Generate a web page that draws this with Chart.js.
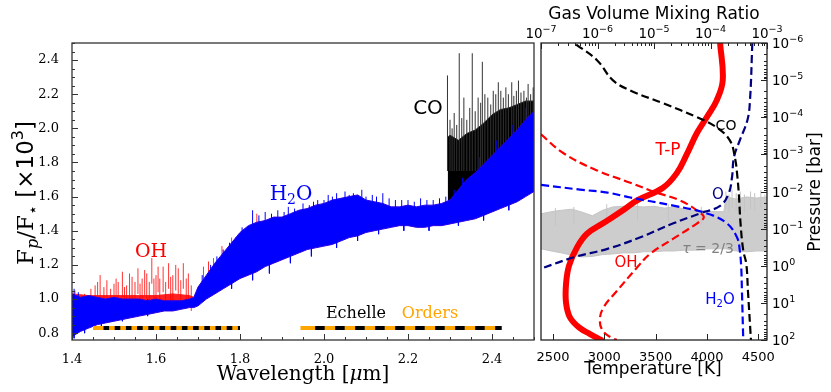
<!DOCTYPE html>
<html>
<head>
<meta charset="utf-8">
<title>Emission spectrum and T-P profile</title>
<script src="https://cdn.jsdelivr.net/npm/chart.js@4.4.1/dist/chart.umd.min.js"></script>
<style>
  html, body { margin: 0; padding: 0; background: #fff; }
  #stage { position: relative; width: 831px; height: 392px; overflow: hidden; }
  #stage canvas { position: absolute; left: 0; top: 0; }
</style>
</head>
<body>
<div id="stage">
  <canvas id="spectrum" width="831" height="392"></canvas>
  <canvas id="profile" width="831" height="392"></canvas>
</div>
<script>
// ---------- left panel: planet/star flux ratio vs wavelength ----------
const blueWl = [1.40, 1.42, 1.44, 1.46, 1.48, 1.50, 1.52, 1.54, 1.56, 1.58, 1.60, 1.62, 1.64, 1.66, 1.68, 1.69,
  1.70, 1.72, 1.74, 1.76, 1.78, 1.80, 1.82, 1.84, 1.86, 1.88, 1.90, 1.92, 1.94, 1.96, 1.98, 2.00,
  2.02, 2.04, 2.06, 2.08, 2.10, 2.12, 2.14, 2.16, 2.18, 2.20, 2.22, 2.24, 2.26, 2.28, 2.30, 2.32,
  2.34, 2.36, 2.38, 2.40, 2.42, 2.44, 2.46, 2.48, 2.50];
const blueTop = [1.03, 1.01, 1.02, 1.01, 1.00, 1.01, 1.00, 1.00, 1.00, 0.99, 1.00, 0.99, 0.99, 0.99, 1.00, 1.01,
  1.07, 1.14, 1.21, 1.27, 1.33, 1.39, 1.43, 1.45, 1.46, 1.48, 1.48, 1.50, 1.52, 1.53, 1.55, 1.56,
  1.58, 1.59, 1.60, 1.61, 1.58, 1.57, 1.56, 1.54, 1.54, 1.55, 1.54, 1.55, 1.55, 1.56, 1.58, 1.64,
  1.70, 1.74, 1.79, 1.84, 1.89, 1.94, 1.99, 2.05, 2.10];
const blueBottom = [0.78, 0.81, 0.83, 0.85, 0.86, 0.87, 0.88, 0.89, 0.90, 0.91, 0.92, 0.93, 0.93, 0.94, 0.95, 0.95,
  0.96, 1.00, 1.03, 1.06, 1.09, 1.12, 1.14, 1.16, 1.19, 1.21, 1.23, 1.25, 1.27, 1.29, 1.30, 1.31,
  1.32, 1.34, 1.36, 1.37, 1.39, 1.40, 1.41, 1.42, 1.43, 1.43, 1.42, 1.42, 1.43, 1.43, 1.44, 1.45,
  1.46, 1.47, 1.49, 1.51, 1.53, 1.55, 1.57, 1.60, 1.63];
const blueLineWl = [1.405, 1.415, 1.71, 1.73, 1.745, 1.76, 1.775, 1.79, 1.805, 1.83, 1.845, 1.86, 1.875, 1.89,
  1.905, 1.915, 1.93, 1.95, 1.965, 1.975, 1.985, 2.00, 2.01, 2.02, 2.03, 2.05, 2.06, 2.07, 2.09, 2.10,
  2.115, 2.125, 2.14, 2.155, 2.17, 2.185, 2.20, 2.215, 2.23, 2.245, 2.26, 2.275, 2.29, 2.31,
  2.33, 2.37, 2.41, 2.45, 2.48];
const blueLinePeak = [1.06, 1.04, 1.14, 1.20, 1.25, 1.29, 1.33, 1.36, 1.42, 1.52, 1.49, 1.51, 1.50, 1.52,
  1.51, 1.54, 1.53, 1.56, 1.55, 1.57, 1.58, 1.58, 1.61, 1.60, 1.62, 1.63, 1.61, 1.62, 1.64, 1.60,
  1.61, 1.60, 1.62, 1.59, 1.58, 1.58, 1.58, 1.57, 1.59, 1.58, 1.58, 1.59, 1.60, 1.64,
  1.71, 1.83, 1.93, 2.02, 2.12];
// downward noise reaching below the band
const blueDipWl = [1.405, 1.43, 1.47, 1.52, 1.58, 1.78, 1.83, 1.87, 1.92, 1.97, 2.03, 2.08, 2.13, 2.19, 2.25, 2.32, 2.38, 2.44];
const blueDip = [0.77, 0.80, 0.84, 0.87, 0.90, 1.06, 1.11, 1.15, 1.21, 1.25, 1.30, 1.34, 1.38, 1.40, 1.40, 1.43, 1.46, 1.52];

const ohWl = [1.40, 1.44, 1.48, 1.52, 1.56, 1.60, 1.64, 1.68, 1.69];
const ohTop = [1.03, 1.02, 1.02, 1.02, 1.02, 1.02, 1.03, 1.02, 1.01];
const ohBottom = [0.96, 0.96, 0.96, 0.96, 0.97, 0.97, 0.97, 0.97, 0.97];
const ohLineWl = [1.407, 1.43, 1.445, 1.455, 1.461, 1.467, 1.476, 1.483, 1.492, 1.50, 1.505, 1.51, 1.52, 1.525,
  1.53, 1.537, 1.543, 1.55, 1.557, 1.562, 1.567, 1.573, 1.578, 1.584, 1.59, 1.595, 1.60, 1.605, 1.609,
  1.617, 1.623, 1.63, 1.635, 1.64, 1.647, 1.653, 1.659, 1.665, 1.672, 1.677, 1.684, 1.713, 1.725,
  1.737, 1.757, 1.78, 1.84];
const ohLinePeak = [1.05, 1.03, 1.06, 1.08, 1.10, 1.14, 1.07, 1.11, 1.06, 1.09, 1.12, 1.10, 1.16, 1.07,
  1.08, 1.15, 1.13, 1.10, 1.18, 1.09, 1.12, 1.17, 1.15, 1.10, 1.24, 1.12, 1.14, 1.19, 1.12,
  1.19, 1.10, 1.21, 1.13, 1.14, 1.20, 1.18, 1.11, 1.21, 1.12, 1.15, 1.08, 1.19, 1.22,
  1.24, 1.31, 1.36, 1.50];

const coWl = [2.295, 2.30, 2.32, 2.34, 2.36, 2.38, 2.40, 2.42, 2.44, 2.46, 2.48, 2.50];
const coTop = [1.95, 1.96, 1.93, 1.97, 1.99, 2.03, 2.08, 2.11, 2.12, 2.14, 2.16, 2.16];
const coBottom = [1.55, 1.56, 1.60, 1.65, 1.70, 1.75, 1.80, 1.85, 1.90, 1.95, 2.00, 2.05];
const coLineWl = [2.294, 2.30, 2.305, 2.31, 2.316, 2.322, 2.328, 2.333, 2.34, 2.347, 2.353, 2.36, 2.367,
  2.373, 2.377, 2.383, 2.39, 2.397, 2.403, 2.409, 2.415, 2.421, 2.427, 2.433, 2.439, 2.447, 2.452,
  2.458, 2.463, 2.469, 2.476, 2.482, 2.486, 2.492, 2.498];
const coLinePeak = [2.31, 2.05, 2.00, 2.09, 2.02, 2.44, 2.06, 2.18, 2.05, 2.12, 2.44, 2.10, 2.18,
  2.15, 2.39, 2.20, 2.18, 2.14, 2.22, 2.20, 2.27, 2.22, 2.18, 2.24, 2.20, 2.27, 2.19,
  2.22, 2.28, 2.21, 2.22, 2.18, 2.26, 2.20, 2.24];

const echelleLevel = 0.83;
const echelleA = [1.45, 1.80];
const echelleA_odd = [1.475, 1.80];
const echelleB = [1.944, 2.423];
const echelleB_odd = [1.979, 2.423];

const wlTicks = [1.4, 1.6, 1.8, 2.0, 2.2, 2.4];
const fluxTicks = [0.8, 1.0, 1.2, 1.4, 1.6, 1.8, 2.0, 2.2, 2.4];

// ---------- right panel: T-P profile and mixing ratios ----------
const tpTemp = [4128, 4154, 4095, 3998, 3901, 3803, 3706, 3572, 3319, 3182, 2987, 2831, 2734, 2656, 2627, 2627, 2666, 2763, 2861, 2968];
const tpPres = [1e-6, 1e-5, 3.5e-5, 1e-4, 2.7e-4, 1e-3, 3.2e-3, 7.9e-3, 0.0174, 0.032, 0.072, 0.138, 0.32, 1, 3.1, 10, 25, 48, 69, 100];

const ohMr = [1e-7, 2.5e-7, 9.8e-7, 3.8e-6, 1.1e-5, 2.9e-5, 6.5e-5, 7.6e-5, 5.8e-5, 2.2e-5, 8.5e-6, 5.0e-6, 2.2e-6, 1.26e-6, 1.1e-6, 1.26e-6, 1.8e-6, 2.2e-6];
const ohPres = [2.9e-4, 9.3e-4, 2.7e-3, 5.8e-3, 0.0107, 0.0174, 0.037, 0.050, 0.072, 0.186, 0.48, 1.12, 4.8, 13.8, 31, 58, 89, 100];

const h2oMr = [1e-7, 4.9e-7, 1.5e-6, 3.8e-6, 2.2e-5, 8.7e-5, 1.95e-4, 2.95e-4, 3.3e-4, 3.5e-4, 3.6e-4, 3.8e-4];
const h2oPres = [6.6e-3, 8.9e-3, 0.0107, 0.0145, 0.024, 0.039, 0.072, 0.174, 0.39, 1.12, 4.8, 100];

const oMr = [5.5e-4, 5.0e-4, 4.5e-4, 3.3e-4, 2.6e-4, 2.4e-4, 2.1e-4, 1.5e-4, 6.5e-5, 2.2e-5, 5.6e-6, 1.5e-6, 3.7e-7, 1e-7];
const oPres = [1e-6, 3.5e-5, 1.2e-4, 4.2e-4, 1.2e-3, 4.2e-3, 0.0112, 0.024, 0.039, 0.072, 0.174, 0.35, 0.60, 1.2];

const coMr = [4.2e-7, 9.8e-7, 1.86e-6, 3.8e-6, 1.45e-5, 5.8e-5, 1.3e-4, 2.2e-4, 2.7e-4, 3.0e-4, 3.2e-4, 3.4e-4, 3.8e-4, 4.3e-4, 4.6e-4, 5.2e-4];
const coPres = [1.1e-6, 2.9e-6, 1e-5, 1.9e-5, 4.2e-5, 1e-4, 1.9e-4, 4.2e-4, 1.2e-3, 4.2e-3, 0.0145, 0.072, 0.39, 0.89, 4.8, 100];

// tau = 2/3 pressure across the same wavelength range
const tauWl = [1.40, 1.45, 1.50, 1.55, 1.60, 1.65, 1.70, 1.75, 1.80, 1.85, 1.90, 1.95, 2.00, 2.05, 2.10, 2.15,
  2.20, 2.25, 2.29, 2.30, 2.35, 2.40, 2.45, 2.50];
const tauTop = [0.040, 0.035, 0.032, 0.030, 0.036, 0.045, 0.032, 0.026, 0.025, 0.025, 0.026, 0.025, 0.028, 0.026, 0.030, 0.032,
  0.033, 0.035, 0.035, 0.014, 0.016, 0.014, 0.015, 0.014];
const tauBottom = [0.35, 0.40, 0.45, 0.52, 0.58, 0.56, 0.50, 0.48, 0.45, 0.45, 0.42, 0.42, 0.40, 0.40, 0.38, 0.38,
  0.35, 0.35, 0.35, 0.35, 0.40, 0.42, 0.40, 0.40];
const tauLineWl = [1.47, 1.56, 1.72, 1.87, 2.02, 2.18, 2.30, 2.315, 2.33, 2.35, 2.37, 2.39, 2.42, 2.44, 2.47, 2.49];
const tauLinePeak = [0.028, 0.026, 0.022, 0.020, 0.022, 0.026, 0.010, 0.012, 0.009, 0.011, 0.010, 0.012, 0.010, 0.011, 0.009, 0.012];

const tempTicks = [2500, 3000, 3500, 4000, 4500];
const mrTicks = [1e-7, 1e-6, 1e-5, 1e-4, 1e-3];
const mrTickExp = ['−7', '−6', '−5', '−4', '−3'];
const presTicks = [1e-6, 1e-5, 1e-4, 1e-3, 1e-2, 1e-1, 1, 10, 100];
const presTickExp = ['−6', '−5', '−4', '−3', '−2', '−1', '0', '1', '2'];

const SERIF = '"DejaVu Serif", serif';
const SANS = '"DejaVu Sans", sans-serif';
Chart.defaults.font.family = SANS;
Chart.defaults.color = '#000';

// closed outline: along the top edge, back along the bottom edge
function band(wl, top, bottom) {
    const pts = wl.map((w, i) => ({ x: w, y: top[i] }));
    for (let i = wl.length - 1; i >= 0; i--) pts.push({ x: wl[i], y: bottom[i] });
    return pts;
}

// one vertical stroke per line, broken by gaps
function spikes(wl, peak, baseOf) {
    const pts = [];
    wl.forEach((w, i) => {
        pts.push({ x: w, y: baseOf(peak[i]) }, { x: w, y: peak[i] }, { x: w, y: null });
    });
    return pts;
}

function pairs(xs, ys) {
    return xs.map((v, i) => ({ x: v, y: ys[i] }));
}

function areaSet(label, pts, color, edge, order, extra) {
    return Object.assign({
        label, data: pts, fill: 'shape', backgroundColor: color, borderColor: edge,
        borderWidth: 1, pointRadius: 0, order
    }, extra || {});
}

function strokeSet(label, pts, color, width, order, extra) {
    return Object.assign({
        label, data: pts, fill: false, borderColor: color, borderWidth: width,
        pointRadius: 0, spanGaps: false, order
    }, extra || {});
}

// text runs with mixed fonts, centred on x (or left-aligned), baseline on y
function rich(ctx, runs, x, y, angle, alignLeft) {
    ctx.save();
    ctx.translate(x, y);
    if (angle) ctx.rotate(angle);
    ctx.textAlign = 'left';
    ctx.textBaseline = 'alphabetic';
    let total = 0;
    runs.forEach(r => { ctx.font = r.f; total += ctx.measureText(r.t).width; });
    let cx = alignLeft ? 0 : -total / 2;
    runs.forEach(r => {
        ctx.font = r.f;
        ctx.fillStyle = r.c || '#000';
        ctx.fillText(r.t, cx, r.dy || 0);
        cx += ctx.measureText(r.t).width;
    });
    ctx.restore();
}

function power(exp) {
    return [{ t: '10', f: '13.5px ' + SANS }, { t: exp, f: '9.5px ' + SANS, dy: -6 }];
}

const specFrame = {
    id: 'specFrame',
    afterDatasetsDraw(chart) {
        const { ctx, chartArea: a } = chart;
        const { x, y } = chart.scales;
        ctx.save();
        ctx.strokeStyle = '#333';
        ctx.lineWidth = 1.3;
        ctx.strokeRect(a.left, a.top, a.right - a.left, a.bottom - a.top);
        ctx.lineWidth = 1;
        ctx.beginPath();
        for (let k = 16; k <= 50; k++) {
            const py = Math.round(y.getPixelForValue(k * 0.05)) + 0.5;
            ctx.moveTo(a.left, py);
            ctx.lineTo(a.left + (k % 4 === 0 ? 6 : 3), py);
        }
        for (let k = 28; k <= 50; k++) {
            const px = Math.round(x.getPixelForValue(k * 0.05)) + 0.5;
            ctx.moveTo(px, a.bottom);
            ctx.lineTo(px, a.bottom - (k % 4 === 0 ? 6 : 3));
        }
        ctx.stroke();
        ctx.restore();
    }
};

const specText = {
    id: 'specText',
    afterDraw(chart) {
        const ctx = chart.ctx;
        rich(ctx, [
            { t: 'F', f: '23px ' + SERIF },
            { t: 'p', f: 'italic 16px ' + SERIF, dy: 5 },
            { t: '/F', f: '23px ' + SERIF },
            { t: '⋆', f: '16px ' + SANS, dy: 5 },
            { t: ' [×10', f: '23px ' + SANS },
            { t: '3', f: '16px ' + SANS, dy: -10 },
            { t: ']', f: '23px ' + SANS }
        ], 33, 193, -Math.PI / 2);
        rich(ctx, [
            { t: 'Wavelength [', f: '20px ' + SERIF },
            { t: 'μ', f: 'italic 20px ' + SERIF },
            { t: 'm]', f: '20px ' + SERIF }
        ], 303, 380);
        rich(ctx, [{ t: 'OH', f: '19px ' + SERIF, c: '#ff0000' }], 151, 257);
        rich(ctx, [
            { t: 'H', f: '20px ' + SERIF, c: '#0000ff' },
            { t: '2', f: '14px ' + SERIF, c: '#0000ff', dy: 4 },
            { t: 'O', f: '20px ' + SERIF, c: '#0000ff' }
        ], 291, 200);
        rich(ctx, [{ t: 'CO', f: '20px ' + SANS }], 428, 114);
        rich(ctx, [{ t: 'Echelle', f: '16px ' + SERIF }], 356, 318);
        rich(ctx, [{ t: 'Orders', f: '16px ' + SERIF, c: '#ffa500' }], 430, 318);
    }
};

new Chart(document.getElementById('spectrum'), {
    type: 'line',
    data: {
        datasets: [
            areaSet('OH', band(ohWl, ohTop, ohBottom), '#ff2020', '#ff2020', 9),
            strokeSet('OH lines', spikes(ohLineWl, ohLinePeak, p => p - 0.15), 'rgba(255,0,0,0.8)', 1, 8),
            areaSet('CO', band(coWl, coTop, coBottom), '#000000', '#222', 7),
            strokeSet('CO lines', spikes(coLineWl, coLinePeak, () => 1.75), '#333', 1, 6),
            areaSet('H2O', band(blueWl, blueTop, blueBottom), '#0000ff', '#2a00e6', 5),
            strokeSet('H2O lines', spikes(blueLineWl, blueLinePeak, p => p - 0.12), '#0000ff', 1, 4),
            strokeSet('H2O dips', spikes(blueDipWl, blueDip, p => p + 0.1), '#0000ff', 1, 4),
            strokeSet('orders A', pairs(echelleA, [echelleLevel, echelleLevel]), '#ffa500', 4, 3, { borderCapStyle: 'butt' }),
            strokeSet('orders A odd', pairs(echelleA_odd, [echelleLevel, echelleLevel]), '#000', 4, 2, { borderDash: [5.6, 5.6], borderCapStyle: 'butt' }),
            strokeSet('orders B', pairs(echelleB, [echelleLevel, echelleLevel]), '#ffa500', 4, 1, { borderCapStyle: 'butt' }),
            strokeSet('orders B odd', pairs(echelleB_odd, [echelleLevel, echelleLevel]), '#000', 4, 0, { borderDash: [9.5, 10.5], borderCapStyle: 'butt' })
        ]
    },
    options: {
        responsive: false,
        animation: false,
        devicePixelRatio: 1,
        layout: { padding: { left: 0, top: 43, right: 297, bottom: 0 } },
        plugins: { legend: { display: false }, tooltip: { enabled: false } },
        scales: {
            x: {
                type: 'linear', min: 1.4, max: 2.5,
                grid: { display: false }, border: { display: false },
                afterBuildTicks: s => { s.ticks = wlTicks.map(v => ({ value: v })); },
                afterFit: s => { s.height = 52; },
                ticks: { font: { family: SERIF, size: 13 }, padding: 4, maxRotation: 0, autoSkip: false, callback: v => v.toFixed(1) }
            },
            y: {
                type: 'linear', min: 0.76, max: 2.5,
                grid: { display: false }, border: { display: false },
                afterBuildTicks: s => { s.ticks = fluxTicks.map(v => ({ value: v })); },
                afterFit: s => { s.width = 72; },
                ticks: { font: { family: SERIF, size: 13 }, padding: 5, autoSkip: false, callback: v => v.toFixed(1) }
            }
        }
    },
    plugins: [specFrame, specText]
});

const profileFrame = {
    id: 'profileFrame',
    afterDatasetsDraw(chart) {
        const { ctx, chartArea: a } = chart;
        const { x, mr, p } = chart.scales;
        ctx.save();
        ctx.strokeStyle = '#222';
        ctx.lineWidth = 1.3;
        ctx.strokeRect(a.left, a.top, a.right - a.left, a.bottom - a.top);
        ctx.lineWidth = 1;
        ctx.beginPath();
        for (let e = -6; e <= 2; e++) {
            for (let k = 1; k <= 9; k++) {
                const v = k * Math.pow(10, e);
                if (v > 100.001) break;
                const py = Math.round(p.getPixelForValue(v)) + 0.5;
                ctx.moveTo(a.right, py);
                ctx.lineTo(a.right - (k === 1 ? 6 : 3), py);
            }
        }
        for (let e = -7; e <= -3; e++) {
            for (let k = 1; k <= 9; k++) {
                const v = k * Math.pow(10, e);
                if (v > 1.0001e-3) break;
                const px = Math.round(mr.getPixelForValue(v)) + 0.5;
                ctx.moveTo(px, a.top);
                ctx.lineTo(px, a.top + (k === 1 ? 6 : 3));
            }
        }
        tempTicks.forEach(v => {
            const px = Math.round(x.getPixelForValue(v)) + 0.5;
            ctx.moveTo(px, a.bottom);
            ctx.lineTo(px, a.bottom - 6);
        });
        ctx.stroke();
        ctx.restore();
    }
};

const profileText = {
    id: 'profileText',
    afterDraw(chart) {
        const ctx = chart.ctx;
        const { mr, p } = chart.scales;
        const area = chart.chartArea;
        // power-of-ten tick labels
        presTicks.forEach((v, i) => {
            rich(ctx, power(presTickExp[i]), area.right + 5, p.getPixelForValue(v) + 5, 0, true);
        });
        mrTicks.forEach((v, i) => {
            rich(ctx, power(mrTickExp[i]), mr.getPixelForValue(v), 38);
        });
        rich(ctx, [{ t: 'Gas Volume Mixing Ratio', f: '17px ' + SANS }], 654, 19);
        rich(ctx, [{ t: 'Temperature [K]', f: '17px ' + SANS }], 653, 374);
        rich(ctx, [{ t: 'Pressure [bar]', f: '17px ' + SANS }], 820, 192, -Math.PI / 2);
        rich(ctx, [{ t: 'CO', f: '14px ' + SANS }], 726, 130);
        rich(ctx, [{ t: 'T-P', f: '17px ' + SANS, c: '#ff0000' }], 668, 155);
        rich(ctx, [{ t: 'O', f: '15px ' + SANS, c: '#000080' }], 718, 199);
        rich(ctx, [
            { t: 'τ', f: 'italic 14px ' + SANS, c: '#808080' },
            { t: ' = 2/3', f: '14px ' + SANS, c: '#808080' }
        ], 708, 253);
        rich(ctx, [{ t: 'OH', f: '15px ' + SANS, c: '#ff0000' }], 626, 267);
        rich(ctx, [
            { t: 'H', f: '15px ' + SANS, c: '#0000ff' },
            { t: '2', f: '10px ' + SANS, c: '#0000ff', dy: 3 },
            { t: 'O', f: '15px ' + SANS, c: '#0000ff' }
        ], 720, 304);
    }
};

const dashed = { borderDash: [8, 4], tension: 0.4, xAxisID: 'mr', yAxisID: 'p' };

new Chart(document.getElementById('profile'), {
    type: 'line',
    data: {
        datasets: [
            areaSet('tau=2/3', band(tauWl, tauTop, tauBottom), '#cdcdcd', '#c4c4c4', 10, { xAxisID: 'wl', yAxisID: 'p' }),
            strokeSet('tau lines', spikes(tauLineWl, tauLinePeak, p => p * 3), '#c4c4c4', 1, 9, { xAxisID: 'wl', yAxisID: 'p' }),
            strokeSet('T-P', pairs(tpTemp, tpPres), '#ff0000', 6, 8, { tension: 0.4, xAxisID: 'x', yAxisID: 'p', borderCapStyle: 'round', borderJoinStyle: 'round' }),
            strokeSet('OH', pairs(ohMr, ohPres), '#ff0000', 2.2, 4, dashed),
            strokeSet('H2O', pairs(h2oMr, h2oPres), '#0000ff', 2.2, 3, dashed),
            strokeSet('O', pairs(oMr, oPres), '#000080', 2.2, 2, dashed),
            strokeSet('CO', pairs(coMr, coPres), '#000000', 2.2, 1, dashed)
        ]
    },
    options: {
        responsive: false,
        animation: false,
        devicePixelRatio: 1,
        layout: { padding: { left: 541, top: 0, right: 0, bottom: 0 } },
        plugins: { legend: { display: false }, tooltip: { enabled: false } },
        scales: {
            x: {
                type: 'linear', position: 'bottom', min: 2383, max: 4585,
                grid: { display: false }, border: { display: false },
                afterBuildTicks: s => { s.ticks = tempTicks.map(v => ({ value: v })); },
                afterFit: s => { s.height = 52; },
                ticks: { font: { size: 13 }, padding: 2, maxRotation: 0, autoSkip: false, callback: v => String(v) }
            },
            mr: {
                type: 'logarithmic', position: 'top', axis: 'x', min: 1e-7, max: 1e-3,
                grid: { display: false }, border: { display: false },
                afterBuildTicks: s => { s.ticks = mrTicks.map(v => ({ value: v })); },
                afterFit: s => { s.height = 43; },
                ticks: { display: false }
            },
            p: {
                type: 'logarithmic', position: 'right', axis: 'y', reverse: true, min: 1e-6, max: 100,
                grid: { display: false }, border: { display: false },
                afterBuildTicks: s => { s.ticks = presTicks.map(v => ({ value: v })); },
                afterFit: s => { s.width = 64; },
                ticks: { display: false }
            },
            wl: { type: 'linear', axis: 'x', position: 'bottom', display: false, min: 1.4, max: 2.5 },
            y: { display: false }
        }
    },
    plugins: [profileFrame, profileText]
});
</script>
</body>
</html>
